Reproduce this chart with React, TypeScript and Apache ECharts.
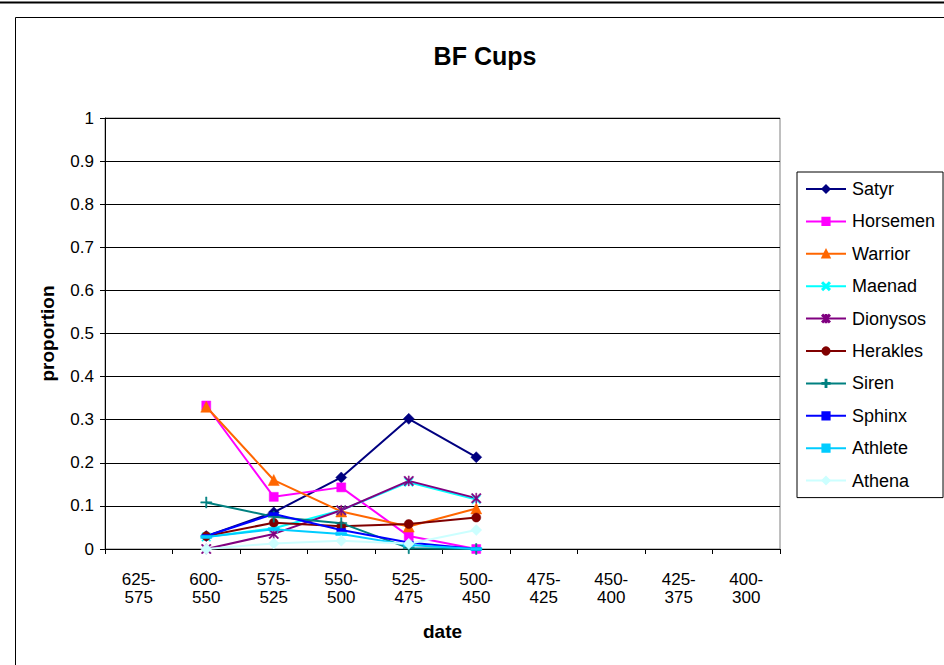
import React, { useEffect, useRef } from "react";
import * as echarts from "echarts";

const categories = ["625-\n575", "600-\n550", "575-\n525", "550-\n500", "525-\n475", "500-\n450", "475-\n425", "450-\n400", "425-\n375", "400-\n300"];
const yTicks = { min: 0, max: 1, interval: 0.1 };

const satyr = [null, 0.03, 0.085, 0.166, 0.302, 0.213, null, null, null, null];
const horsemen = [null, 0.333, 0.121, 0.143, 0.03, 0, null, null, null, null];
const warrior = [null, 0.33, 0.16, 0.087, 0.052, 0.094, null, null, null, null];
const maenad = [null, 0.028, 0.048, 0.09, 0.155, 0.115, null, null, null, null];
const dionysos = [null, 0, 0.035, 0.09, 0.158, 0.118, null, null, null, null];
const herakles = [null, 0.03, 0.061, 0.053, 0.058, 0.073, null, null, null, null];
const siren = [null, 0.108, 0.075, 0.06, 0.002, 0, null, null, null, null];
const sphinx = [null, 0.03, 0.081, 0.044, 0.015, 0, null, null, null, null];
const athlete = [null, 0.028, 0.046, 0.035, 0.009, 0, null, null, null, null];
const athena = [null, 0, 0.013, 0.019, 0.012, 0.044, null, null, null, null];

const X_PATH = "path://M0,1L1,0L5,4L9,0L10,1L6,5L10,9L9,10L5,6L1,10L0,9L4,5Z";
const PLUS_PATH = "path://M4.4,0H5.6V4.4H10V5.6H5.6V10H4.4V5.6H0V4.4H4.4Z";
const STAR_PATH = "path://M0,1L1,0L5,4L9,0L10,1L6,5L10,9L9,10L5,6L1,10L0,9L4,5Z M4.5,0L5.5,0L5.5,10L4.5,10Z";

const seriesDefs = [
  { name: "Satyr", data: satyr, color: "#000080", symbol: "diamond", size: 11 },
  { name: "Horsemen", data: horsemen, color: "#FF00FF", symbol: "rect", size: 9 },
  { name: "Warrior", data: warrior, color: "#FF6600", symbol: "triangle", size: 11 },
  { name: "Maenad", data: maenad, color: "#00FFFF", symbol: X_PATH, size: 9 },
  { name: "Dionysos", data: dionysos, color: "#800080", symbol: STAR_PATH, size: 10 },
  { name: "Herakles", data: herakles, color: "#800000", symbol: "circle", size: 9 },
  { name: "Siren", data: siren, color: "#008080", symbol: PLUS_PATH, size: 11 },
  { name: "Sphinx", data: sphinx, color: "#0000FF", symbol: "rect", size: [9, 3] },
  { name: "Athlete", data: athlete, color: "#00CCFF", symbol: "rect", size: [11, 3] },
  { name: "Athena", data: athena, color: "#CCFFFF", symbol: "diamond", size: 11 },
];

const FONT = "'Liberation Sans', Arial, sans-serif";

export default function App() {
  const ref = useRef<HTMLDivElement>(null);
  useEffect(() => {
    if (!ref.current) return;
    const chart = echarts.init(ref.current, null, { renderer: "svg" });
    chart.setOption({
      animation: false,
      backgroundColor: "#ffffff",
      textStyle: { fontFamily: FONT },
      title: {
        text: "BF Cups",
        left: 480,
        top: 38,
        textAlign: "center",
        textStyle: { fontFamily: FONT, fontSize: 25, fontWeight: "bold", color: "#000" },
      },
      graphic: [
        { type: "line", shape: { x1: 0, y1: 2.5, x2: 944, y2: 2.5 }, style: { stroke: "#000", lineWidth: 2 } },
        { type: "rect", shape: { x: 15.5, y: 17.5, width: 960, height: 700 }, style: { fill: "none", stroke: "#000", lineWidth: 1 } },
      ],
      legend: {
        orient: "vertical",
        left: 797,
        top: 172,
        width: 145,
        padding: [8, 8, 8, 8],
        itemWidth: 40,
        itemHeight: 9,
        itemGap: 14.4,
        borderColor: "#000",
        borderWidth: 1,
        backgroundColor: "#fff",
        textStyle: { fontFamily: FONT, fontSize: 18, color: "#000", padding: [0, 0, 0, 1] },
        data: seriesDefs.map((s) => s.name),
      },
      grid: {
        left: 105,
        right: 164,
        top: 118,
        bottom: 116,
        show: true,
        borderColor: "#808080",
        borderWidth: 1,
        backgroundColor: "#fff",
      },
      xAxis: {
        type: "category",
        data: categories,
        boundaryGap: true,
        name: "date",
        nameLocation: "middle",
        nameGap: 73,
        nameTextStyle: { fontFamily: FONT, fontSize: 19, fontWeight: "bold", color: "#000" },
        axisLine: { lineStyle: { color: "#000", width: 1 } },
        axisTick: { show: true, length: 5, lineStyle: { color: "#000" } },
        axisLabel: { margin: 21, fontFamily: FONT, fontSize: 17, color: "#000", lineHeight: 18, interval: 0 },
        splitLine: { show: false },
      },
      yAxis: {
        type: "value",
        min: yTicks.min,
        max: yTicks.max,
        interval: yTicks.interval,
        name: "proportion",
        nameLocation: "middle",
        nameGap: 48,
        nameTextStyle: { fontFamily: FONT, fontSize: 19, fontWeight: "bold", color: "#000" },
        axisLine: { show: true, lineStyle: { color: "#000", width: 1 } },
        axisTick: { show: true, length: 5, lineStyle: { color: "#000" } },
        axisLabel: { margin: 11, fontFamily: FONT, fontSize: 17, color: "#000" },
        splitLine: { show: true, lineStyle: { color: "#000", width: 1 } },
      },
      series: seriesDefs.map((s) => ({
        name: s.name,
        type: "line",
        data: s.data,
        symbol: s.symbol,
        symbolSize: s.size,
        showAllSymbol: true,
        connectNulls: false,
        lineStyle: { color: s.color, width: 2 },
        itemStyle: { color: s.color, borderColor: s.color, borderWidth: 0.5 },
        emphasis: { disabled: true },
      })),
    });
    return () => chart.dispose();
  }, []);
  return (
    <div
      ref={ref}
      style={{ position: "fixed", left: 0, top: 0, width: 944, height: 665 }}
    />
  );
}
